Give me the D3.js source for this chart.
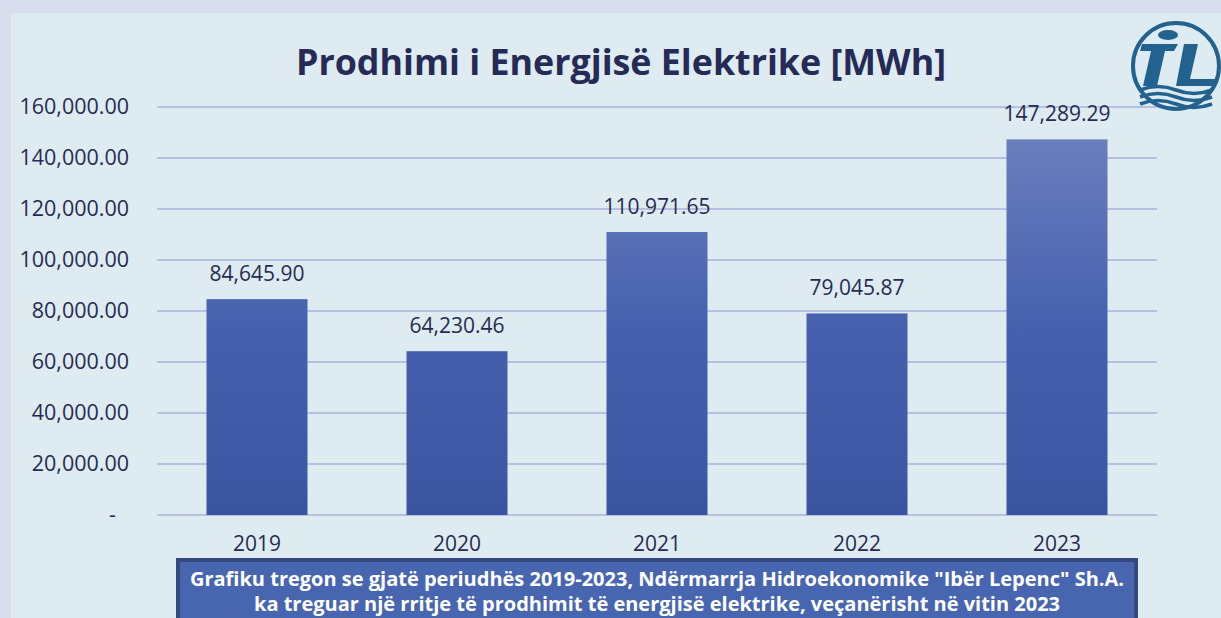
<!DOCTYPE html>
<html>
<head>
<meta charset="utf-8">
<script src="https://cdn.jsdelivr.net/npm/d3@7"></script>
<style>
  body { margin: 0; background: #d9deee; }
  svg { display: block; }
</style>
</head>
<body>
<svg id="drawing_region"></svg>
<script>
// data
const years = ["2019", "2020", "2021", "2022", "2023"];
const production = [84645.90, 64230.46, 110971.65, 79045.87, 147289.29];
const yTicks = [0, 20000, 40000, 60000, 80000, 100000, 120000, 140000, 160000];
const title = "Prodhimi i Energjisë Elektrike [MWh]";
const noteLines = [
  "Grafiku tregon se gjatë periudhës 2019-2023, Ndërmarrja Hidroekonomike \"Ibër Lepenc\" Sh.A.",
  "ka treguar një rritje të prodhimit të energjisë elektrike, veçanërisht në vitin 2023"
];

const data = years.map((y, i) => ({ year: y, value: production[i] }));

const width = 1221, height = 618;
const font = "'Open Sans', 'Noto Sans', sans-serif";
const textColor = "#272b52";

const svg = d3.select("#drawing_region")
  .attr("width", width)
  .attr("height", height);

// inner panel
svg.append("rect")
  .attr("x", 11).attr("y", 13)
  .attr("width", width - 11).attr("height", height - 13)
  .attr("fill", "#deebf0");

// stray descender from the text above the panel
svg.append("text")
  .attr("x", 121).attr("y", -12)
  .attr("font-family", font).attr("font-size", 28)
  .attr("fill", "#111")
  .text("j");

const margin = { left: 157, right: 64, top: 107, bottom: 103 };
const plotW = width - margin.left - margin.right;
const plotH = height - margin.top - margin.bottom;

const chart = svg.append("g")
  .attr("transform", `translate(${margin.left},${margin.top})`);

const x = d3.scaleBand()
  .domain(years)
  .range([0, plotW])
  .paddingInner(0.495)
  .paddingOuter(0.2475);

const y = d3.scaleLinear()
  .domain([0, 160000])
  .range([plotH, 0]);

// gridlines
chart.append("g")
  .selectAll("line")
  .data(yTicks)
  .join("line")
  .attr("x1", 0).attr("x2", plotW)
  .attr("y1", d => y(d)).attr("y2", d => y(d))
  .attr("stroke", "#b7c0e0")
  .attr("stroke-width", 2);

// y axis labels
const fmt = d3.format(",.2f");
const yAxis = d3.axisLeft(y)
  .tickValues(yTicks)
  .tickSize(0)
  .tickPadding(28)
  .tickFormat(d => d === 0 ? "-" : fmt(d));

chart.append("g")
  .call(yAxis)
  .call(g => g.select(".domain").remove())
  .call(g => g.selectAll("text")
    .attr("font-family", font)
    .attr("font-size", 21.5)
    .attr("fill", textColor)
    .attr("dx", d => d === 0 ? -13 : 0));

// x axis labels
const xAxis = d3.axisBottom(x).tickSize(0).tickPadding(21);
chart.append("g")
  .attr("transform", `translate(0,${plotH})`)
  .call(xAxis)
  .call(g => g.select(".domain").remove())
  .call(g => g.selectAll("text")
    .attr("font-family", font)
    .attr("font-size", 21)
    .attr("fill", textColor));

// bar gradient
const defs = svg.append("defs");
const grad = defs.append("linearGradient")
  .attr("id", "barGrad")
  .attr("gradientUnits", "userSpaceOnUse")
  .attr("x1", 0).attr("x2", 0)
  .attr("y1", y(160000)).attr("y2", y(0));
grad.append("stop").attr("offset", "0%").attr("stop-color", "#7183c0");
grad.append("stop").attr("offset", "55%").attr("stop-color", "#4560ae");
grad.append("stop").attr("offset", "100%").attr("stop-color", "#3a55a0");

chart.selectAll("rect.bar")
  .data(data)
  .join("rect")
  .attr("class", "bar")
  .attr("x", d => x(d.year))
  .attr("y", d => y(d.value))
  .attr("width", x.bandwidth())
  .attr("height", d => plotH - y(d.value))
  .attr("fill", "url(#barGrad)");

// value labels
chart.selectAll("text.val")
  .data(data)
  .join("text")
  .attr("class", "val")
  .attr("x", d => x(d.year) + x.bandwidth() / 2)
  .attr("y", d => y(d.value) - 18)
  .attr("text-anchor", "middle")
  .attr("font-family", font)
  .attr("font-size", 21)
  .attr("fill", textColor)
  .text(d => fmt(d.value));

// title
svg.append("text")
  .attr("x", 621).attr("y", 75)
  .attr("text-anchor", "middle")
  .attr("font-family", font)
  .attr("font-weight", "bold")
  .attr("font-size", 35.8)
  .attr("fill", "#262a57")
  .text(title);

// logo
const logo = svg.append("g")
  .attr("transform", "translate(1176,66)")
  .attr("fill", "#22628e");
logo.append("circle")
  .attr("r", 43).attr("fill", "none")
  .attr("stroke", "#22628e").attr("stroke-width", 4);
logo.append("ellipse").attr("cx", -8).attr("cy", -31).attr("rx", 10).attr("ry", 5);
logo.append("path").attr("d", "M-34,-22 L2,-22 L-2,-15 L-11,-15 L-19,20 L-33,20 L-25,-15 L-36,-15 Z");
logo.append("path").attr("d", "M8,-22 L22,-22 L14,13 L40,13 L38,20 L0,20 Z");
[24, 31, 38].forEach(wy => {
  logo.append("path")
    .attr("fill", "none").attr("stroke", "#22628e").attr("stroke-width", 3.5)
    .attr("d", `M-36,${wy} Q-18,${wy - 7} 0,${wy} T36,${wy}`);
});

// note box
const box = svg.append("g");
box.append("rect")
  .attr("x", 178).attr("y", 560)
  .attr("width", 958).attr("height", 70)
  .attr("fill", "#4866b0")
  .attr("stroke", "#33497f")
  .attr("stroke-width", 4);
box.selectAll("text")
  .data(noteLines)
  .join("text")
  .attr("x", 657)
  .attr("y", (d, i) => 586 + i * 25)
  .attr("text-anchor", "middle")
  .attr("font-family", font)
  .attr("font-weight", "bold")
  .attr("font-size", 20)
  .attr("fill", "#ffffff")
  .text(d => d);
</script>
</body>
</html>
